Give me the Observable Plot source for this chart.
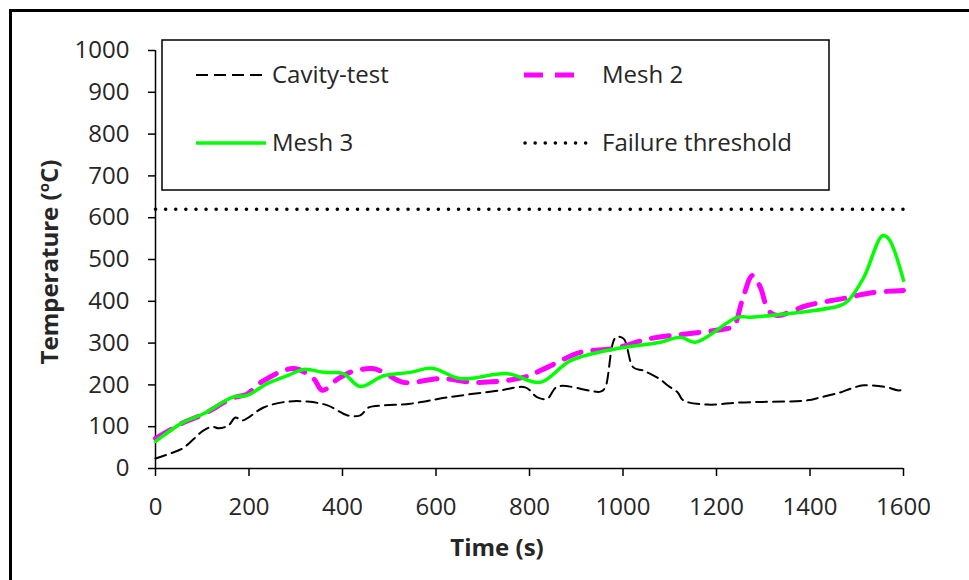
<!DOCTYPE html>
<html>
<head>
<meta charset="utf-8">
<script src="https://cdn.jsdelivr.net/npm/d3@7"></script>
<script src="https://cdn.jsdelivr.net/npm/@observablehq/plot@0.6"></script>
<style>
  html, body { margin: 0; padding: 0; background: #fff; }
  #chart { width: 969px; height: 580px; }
</style>
</head>
<body>
<div id="chart"></div>
<script>
// Cavity-test (black dashed)
const cavityT = [0, 32, 58, 103, 122, 135, 156, 171, 186, 231, 282, 325, 368, 411, 438, 456, 488, 545, 624, 738, 791, 817, 838, 860, 952, 962, 984, 1001, 1022, 1044, 1080, 1095, 1117, 1129, 1181, 1251, 1394, 1422, 1465, 1487, 1515, 1566, 1587, 1600];
const cavityV = [24, 36, 48, 91, 100, 96, 103, 122, 115, 146, 160, 160, 151, 127, 127, 146, 151, 155, 170, 187, 194, 170, 167, 196, 184, 194, 313, 311, 242, 234, 213, 199, 182, 163, 153, 158, 163, 170, 182, 191, 199, 194, 187, 188];

// Mesh 2 (magenta dashed)
const mesh2T = [0, 60, 103, 164, 196, 225, 295, 338, 357, 391, 421, 464, 488, 530, 610, 689, 787, 838, 909, 980, 1059, 1144, 1223, 1237, 1255, 1277, 1294, 1311, 1330, 1394, 1472, 1536, 1600];
const mesh2V = [72, 110, 130, 168, 178, 206, 239, 215, 187, 215, 232, 239, 230, 206, 215, 206, 218, 242, 278, 287, 311, 323, 335, 340, 402, 462, 433, 378, 366, 390, 407, 421, 426];

// Mesh 3 (green solid)
const mesh3T = [0, 60, 103, 164, 196, 239, 282, 317, 360, 402, 438, 488, 545, 592, 652, 753, 823, 888, 988, 1080, 1123, 1155, 1245, 1273, 1465, 1482, 1515, 1555, 1568, 1600];
const mesh3V = [65, 111, 131, 170, 175, 203, 222, 237, 230, 227, 196, 222, 230, 240, 215, 227, 206, 258, 287, 302, 314, 302, 362, 362, 390, 402, 457, 557, 550, 450];

// Failure threshold
const thresholdT = [0, 1600];
const thresholdV = [620, 620];

const xTicks = [0, 200, 400, 600, 800, 1000, 1200, 1400, 1600];
const yTicks = [0, 100, 200, 300, 400, 500, 600, 700, 800, 900, 1000];

const toRows = (ts, vs) => ts.map((t, i) => ({t, v: vs[i]}));
const cavity = toRows(cavityT, cavityV);
const mesh2 = toRows(mesh2T, mesh2V);
const mesh3 = toRows(mesh3T, mesh3V);
const threshold = toRows(thresholdT, thresholdV);

const FONT = "Open Sans, sans-serif";
const TXT = "#262626";

const plot = Plot.plot({
  width: 969,
  height: 580,
  marginLeft: 155,
  marginRight: 66,
  marginTop: 50,
  marginBottom: 112,
  style: { fontFamily: FONT, fontSize: "24px", color: TXT, background: "#fff" },
  x: { domain: [0, 1600], ticks: xTicks, label: null },
  y: { domain: [0, 1000], ticks: yTicks, label: null },
  marks: [
    Plot.axisX({ ticks: xTicks, tickSize: 8, tickPadding: 21, tickFormat: d => String(d), label: null, stroke: "#000", strokeWidth: 1.5, fontSize: 24, fill: TXT }),
    Plot.axisY({ ticks: yTicks, tickSize: 7, tickPadding: 19, tickFormat: d => String(d), label: null, stroke: "#000", strokeWidth: 1.5, fontSize: 24, fill: TXT }),
    Plot.ruleX([0], { stroke: "#000", strokeWidth: 1.5 }),
    Plot.ruleY([0], { stroke: "#000", strokeWidth: 1.5 }),
    Plot.line(threshold, { x: "t", y: "v", stroke: "#000", strokeWidth: 3.5, strokeDasharray: "0.1 10", strokeLinecap: "round" }),
    Plot.line(cavity, { x: "t", y: "v", stroke: "#000", strokeWidth: 2, strokeDasharray: "11 6", curve: "catmull-rom" }),
    Plot.line(mesh2, { x: "t", y: "v", stroke: "#ff00ff", strokeWidth: 5, strokeDasharray: "18 12", curve: "catmull-rom" }),
    Plot.line(mesh3, { x: "t", y: "v", stroke: "#00ff00", strokeWidth: 3.5, curve: "catmull-rom" })
  ]
});

document.getElementById("chart").appendChild(plot);

// Decorations: outer border, axis titles, legend
const svg = d3.select(plot);
svg.append("line").attr("x1", 10).attr("y1", 10.5).attr("x2", 969).attr("y2", 10.5).attr("stroke", "#000").attr("stroke-width", 3);
svg.append("line").attr("x1", 10.5).attr("y1", 9).attr("x2", 10.5).attr("y2", 580).attr("stroke", "#000").attr("stroke-width", 3);

svg.append("text").attr("x", 497).attr("y", 556).attr("text-anchor", "middle")
  .attr("font-family", FONT).attr("font-size", 24).attr("font-weight", "bold").attr("fill", TXT)
  .text("Time (s)");

const yt = svg.append("text").attr("transform", "translate(58,262) rotate(-90)").attr("text-anchor", "middle")
  .attr("font-family", FONT).attr("font-size", 24).attr("font-weight", "bold").attr("fill", TXT);
yt.append("tspan").text("Temperature (");
yt.append("tspan").attr("font-size", 15).attr("dy", -9).text("o");
yt.append("tspan").attr("dy", 9).text("C)");

const lg = svg.append("g");
lg.append("rect").attr("x", 162).attr("y", 40).attr("width", 667).attr("height", 150)
  .attr("fill", "#fff").attr("stroke", "#000").attr("stroke-width", 1.5);

const legendItems = [
  { label: "Cavity-test", x1: 196, x2: 266, tx: 272, y: 75, stroke: "#000", w: 2, dash: "12 6", cap: "butt" },
  { label: "Mesh 2", x1: 524, x2: 586, tx: 602, y: 75, stroke: "#ff00ff", w: 5, dash: "19 12", cap: "butt" },
  { label: "Mesh 3", x1: 196, x2: 266, tx: 272, y: 143, stroke: "#00ff00", w: 3.5, dash: null, cap: "butt" },
  { label: "Failure threshold", x1: 525, x2: 594, tx: 602, y: 143, stroke: "#000", w: 3.5, dash: "0.1 10", cap: "round" }
];
for (const it of legendItems) {
  const l = lg.append("line").attr("x1", it.x1).attr("x2", it.x2).attr("y1", it.y).attr("y2", it.y)
    .attr("stroke", it.stroke).attr("stroke-width", it.w).attr("stroke-linecap", it.cap);
  if (it.dash) l.attr("stroke-dasharray", it.dash);
  lg.append("text").attr("x", it.tx).attr("y", it.y).attr("dy", "0.35em").attr("text-anchor", "start")
    .attr("font-family", FONT).attr("font-size", 24).attr("fill", TXT).text(it.label);
}
</script>
</body>
</html>
